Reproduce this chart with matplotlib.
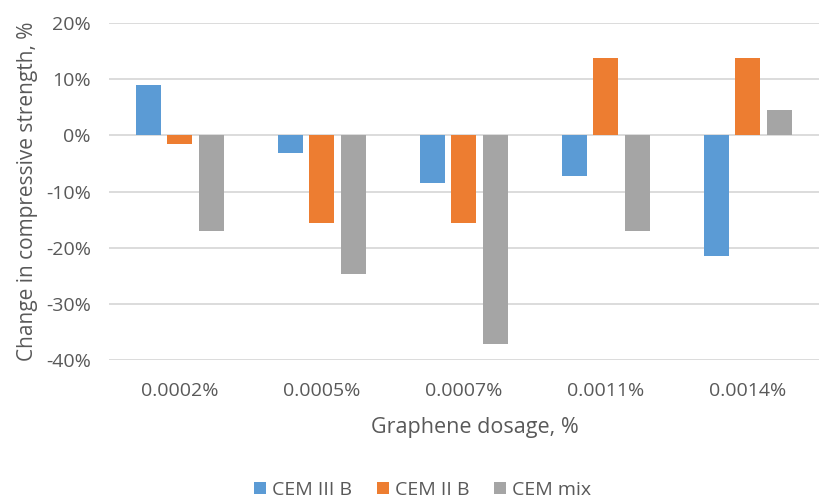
import numpy as np
import matplotlib.pyplot as plt
from matplotlib.ticker import FuncFormatter

plt.rcParams['font.family'] = ['Open Sans', 'DejaVu Sans']

dosages = ["0.0002%", "0.0005%", "0.0007%", "0.0011%", "0.0014%"]
cem_iii_b = [9.0, -3.1, -8.4, -7.3, -21.4]
cem_ii_b = [-1.6, -15.5, -15.5, 13.8, 13.8]
cem_mix = [-17.0, -24.7, -37.1, -17.0, 4.6]

series = ["CEM III B", "CEM II B", "CEM mix"]
colores = ["#5B9BD5", "#ED7D31", "#A5A5A5"]
gris = "#595959"

fig = plt.figure(figsize=(8.19, 5.01), dpi=100)
ax = fig.add_axes([0.133, 0.281, 0.867, 0.673])

x = np.arange(len(dosages))
ancho = 0.176
paso = 0.222
for i, (vals, nombre, c) in enumerate(zip([cem_iii_b, cem_ii_b, cem_mix], series, colores)):
    ax.bar(x + (i - 1) * paso, vals, width=ancho, color=c, label=nombre, zorder=3)

ax.set_xlim(-0.5, len(dosages) - 0.5)
ax.set_ylim(-40, 20)
ax.set_yticks(np.arange(-40, 21, 10))
ax.yaxis.set_major_formatter(FuncFormatter(lambda v, p: f"{v:.0f}%"))
ax.set_xticks(x)
ax.set_xticklabels(dosages)
ax.grid(axis="y", color="#D9D9D9", linewidth=1.3, zorder=0)
for s in ax.spines.values():
    s.set_visible(False)
ax.tick_params(length=0, labelsize=14, labelcolor=gris)
ax.tick_params(axis="y", pad=13)
ax.tick_params(axis="x", pad=16)

ax.set_xlabel("Graphene dosage, %", fontsize=15.5, color=gris)
ax.xaxis.set_label_coords(0.516, -0.168)
ax.set_ylabel("Change in compressive strength, %", fontsize=15, color=gris, labelpad=6)

fig.legend(loc="center", bbox_to_anchor=(0.516, 0.022), ncol=3, frameon=False,
           fontsize=14, labelcolor=gris, handlelength=0.6, handleheight=0.6,
           handletextpad=0.3, columnspacing=1.3)

plt.savefig("out.png", dpi=100)
